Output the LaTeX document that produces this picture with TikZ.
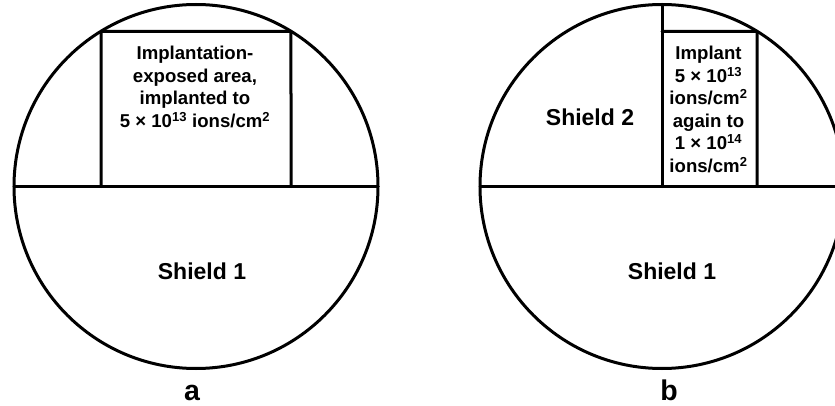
\documentclass[tikz,border=0pt]{standalone}
\usepackage{fontspec}
\setmainfont{Liberation Sans}
\tikzset{
  boxtext/.style={font=\fontsize{18.6}{22.5}\selectfont\bfseries, align=center, inner sep=0pt, anchor=north},
  shieldtext/.style={font=\fontsize{23}{28}\selectfont\bfseries, inner sep=0pt, anchor=base},
  captext/.style={font=\fontsize{28.5}{34}\selectfont\bfseries, inner sep=0pt, anchor=base}
}
\begin{document}
\begin{tikzpicture}[declare function={R=182; w=95;}, x=1pt, y=1pt, line cap=round, line join=round, line width=3pt]
	\useasboundingbox (0,0) rectangle (835,405);
	\clip (0,0) rectangle (835,405);
	% wafer a
	\begin{scope}[shift={(196,218.5)}]
		\draw (0,0) coordinate (a7) circle[radius=R];
		\coordinate (a1) at (0:R);
		\coordinate (a4) at (180:R);
		\coordinate (a5) at (-w,0);
		\coordinate (a6) at (w,0);
		\coordinate (a3) at ({180-acos(w/R)}:R);
		\coordinate (a2) at ({acos(w/R)}:R);
	\end{scope}
	\draw (a4) -- (a1);
	\draw (a5) -- (a3) -- (a2) -- (a6);
	% wafer b
	\begin{scope}[shift={(662,218.5)}]
		\draw (0,0) coordinate (b7) circle[radius=R];
		\coordinate (b1) at (0:R);
		\coordinate (b4) at (180:R);
		\coordinate (b2) at (90:R);
		\coordinate (b5) at (0,{R*sin(acos(w/R))});
		\coordinate (b3) at ({acos(w/R)}:R);
		\coordinate (b6) at (w,0);
	\end{scope}
	\draw (b4) -- (b1);
	\draw (b7) -- (b2);
	\draw (b5) -- (b3) -- (b6);
	% labels
	\node[boxtext] (implanta) at (195,360) {Implantation-\\exposed area,\\implanted to\\5 × 10\textsuperscript{13} ions/cm\textsuperscript{2}};
	\node[boxtext] (implantb) at (708.5,360) {Implant\\5 × 10\textsuperscript{13}\\ions/cm\textsuperscript{2}\\again to\\1 × 10\textsuperscript{14}\\ions/cm\textsuperscript{2}};
	\node[shieldtext] (shielda) at (202,126) {Shield 1};
	\node[shieldtext] (shieldb) at (672,126) {Shield 1};
	\node[shieldtext] (shieldc) at (590,279) {Shield 2};
	\node[captext] (capa) at (192,5) {a};
	\node[captext] (capb) at (669,5) {b};
\end{tikzpicture}
\end{document}
